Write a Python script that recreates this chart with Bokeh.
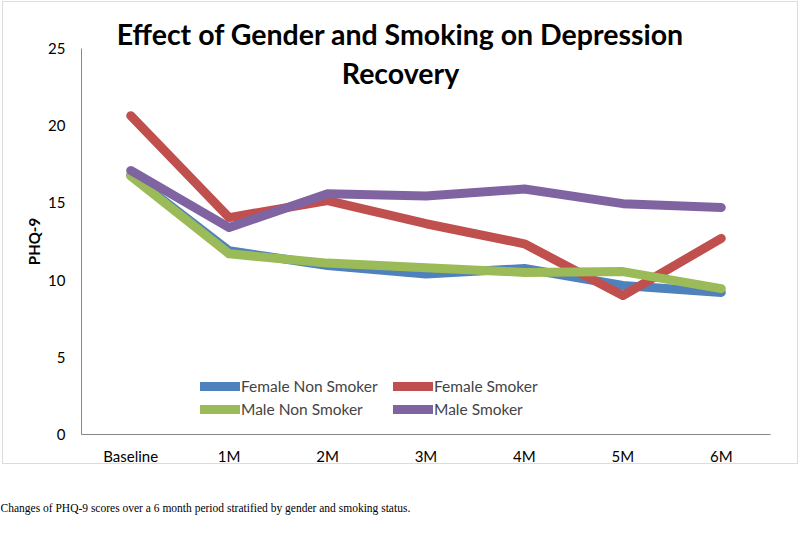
from bokeh.plotting import figure
from bokeh.models import Range1d, FixedTicker, Label, Legend, LegendItem, BoxAnnotation
from bokeh.embed import file_html
from bokeh.resources import INLINE

categories = ["Baseline", "1M", "2M", "3M", "4M", "5M", "6M"]
female_non_smoker = [16.8, 11.9, 10.95, 10.4, 10.75, 9.65, 9.2]
female_smoker = [20.65, 14.05, 15.15, 13.65, 12.35, 9.0, 12.7]
male_non_smoker = [16.75, 11.7, 11.1, 10.8, 10.5, 10.55, 9.45]
male_smoker = [17.1, 13.4, 15.6, 15.45, 15.9, 14.95, 14.7]
y_ticks = [0, 5, 10, 15, 20, 25]

series = [
    ("Female Non Smoker", female_non_smoker, "#4F81BD"),
    ("Female Smoker", female_smoker, "#C0504D"),
    ("Male Non Smoker", male_non_smoker, "#9BBB59"),
    ("Male Smoker", male_smoker, "#8064A2"),
]

FONT = "Lato"
W, H = 800, 542
# plot area in pixels: left 81, right 770, top (value 25) 48, bottom (value 0) 434
PLOT_L, PLOT_R, PLOT_T, PLOT_B = 81, 770, 48, 434
n = len(categories)
px_per_cat = (PLOT_R - PLOT_L) / n
px_per_unit = (PLOT_B - PLOT_T) / 25.0
x_idx = list(range(n))
x_start = -0.5 - PLOT_L / px_per_cat
x_end = n - 0.5 + (W - PLOT_R) / px_per_cat
y_start = -(H - PLOT_B) / px_per_unit
y_end = PLOT_B / px_per_unit

p = figure(width=W, height=H, output_backend="svg", toolbar_location=None,
           x_range=Range1d(x_start, x_end), y_range=Range1d(y_start, y_end),
           min_border_left=0, min_border_right=0, min_border_top=0, min_border_bottom=0)
p.title = None
p.outline_line_color = None
p.xgrid.visible = False
p.ygrid.visible = False
p.background_fill_color = "white"
p.border_fill_color = "white"

renderers = {}
for name, vals, col in series:
    r = p.line(x_idx, vals, line_color=col, line_width=9, line_join="round", line_cap="round")
    renderers[name] = r

# axes
yax = p.yaxis[0]
yax.fixed_location = -0.5
yax.ticker = FixedTicker(ticks=y_ticks)
yax.bounds = (0, 25)
yax.axis_line_color = "#878787"
yax.major_tick_line_color = None
yax.minor_tick_line_color = None
yax.major_tick_out = 0
yax.minor_tick_out = 0
yax.major_label_standoff = 16
yax.major_label_text_font = FONT
yax.major_label_text_font_size = "15px"
yax.major_label_text_color = "#000000"

xax = p.xaxis[0]
xax.fixed_location = 0
xax.ticker = FixedTicker(ticks=x_idx)
xax.major_label_overrides = {i: c for i, c in zip(x_idx, categories)}
xax.bounds = (-0.5, n - 0.5)
xax.axis_line_color = "#878787"
xax.major_tick_line_color = None
xax.minor_tick_line_color = None
xax.major_tick_out = 0
xax.minor_tick_out = 0
xax.major_label_standoff = 12
xax.major_label_text_font = FONT
xax.major_label_text_font_size = "15px"
xax.major_label_text_color = "#000000"

# y-axis title
p.add_layout(Label(x=33, y=H - 241, x_units="screen", y_units="screen", text="PHQ-9", angle=90,
                   angle_units="deg", text_font=FONT, text_font_style="bold", text_font_size="15px",
                   text_align="center", text_baseline="middle", text_color="#000000"))

# legend
order = ["Female Non Smoker", "Male Non Smoker", "Female Smoker", "Male Smoker"]
items = [LegendItem(label=name, renderers=[renderers[name]]) for name in order]
legend = Legend(items=items, ncols=2, location=(200, H - 419), padding=0, margin=0, spacing=3,
                glyph_width=40, glyph_height=20, label_height=20, label_width=149, label_standoff=1,
                label_text_font=FONT, label_text_font_size="15.5px",
                border_line_color=None, background_fill_alpha=0)
p.add_layout(legend, "center")

# title
for txt, yy in [("Effect of Gender and Smoking on Depression", 33), ("Recovery", 72)]:
    p.add_layout(Label(x=400, y=H - yy, x_units="screen", y_units="screen", text=txt,
                       text_font=FONT, text_font_style="bold", text_font_size="28.5px",
                       text_align="center", text_baseline="middle", text_color="#000000"))

# caption
p.add_layout(Label(x=0, y=H - 507, x_units="screen", y_units="screen",
                   text="Changes of PHQ-9 scores over a 6 month period stratified by gender and smoking status.",
                   text_font="Liberation Serif", text_font_size="11.5px",
                   text_align="left", text_baseline="middle", text_color="#000000"))

# chart border
p.add_layout(BoxAnnotation(left=2, right=797, top=1, bottom=463,
                           left_units="canvas", right_units="canvas", top_units="canvas", bottom_units="canvas",
                           fill_alpha=0, line_color="#8c8c8c", line_width=1))

open("out.html", "w").write(file_html(p, INLINE))
